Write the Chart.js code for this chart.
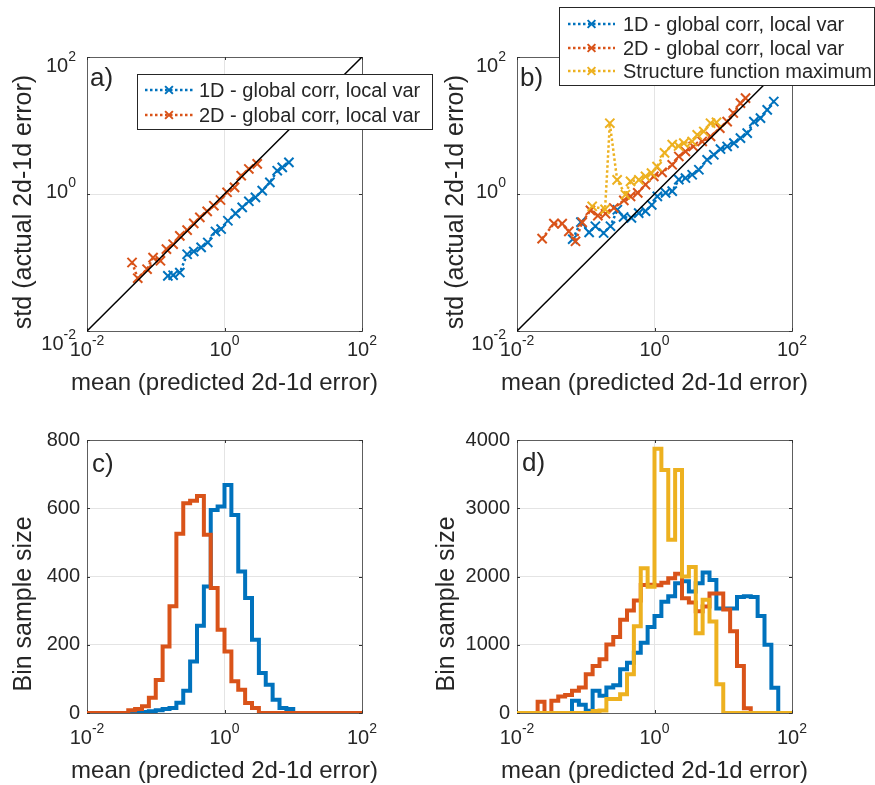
<!DOCTYPE html>
<html><head><meta charset="utf-8">
<script src="https://cdn.jsdelivr.net/npm/chart.js@4"></script>
<style>
html,body{margin:0;padding:0;background:#fff}
body{width:875px;height:785px;position:relative;overflow:hidden}
canvas{position:absolute;left:0;top:0}
</style></head><body>
<canvas id="ca" width="875" height="785"></canvas>
<canvas id="cb" width="875" height="785"></canvas>
<canvas id="cc" width="875" height="785"></canvas>
<canvas id="cd" width="875" height="785"></canvas>
<script>
// ---------------- DATA ----------------
const logTickVals = [0.01, 1, 100];
const logTickExp = ['-2', '0', '2'];
const cTicks = [0, 200, 400, 600, 800];
const dTicks = [0, 1000, 2000, 3000, 4000];

// panel a
const a1D_x = [0.150,0.179,0.224,0.286,0.357,0.457,0.571,0.740,0.893,1.12,1.45,1.81,2.26,2.82,3.54,4.57,5.85,6.92,8.65];
const a1D_y = [0.0638,0.0653,0.0714,0.132,0.145,0.166,0.196,0.284,0.308,0.407,0.521,0.638,0.782,0.893,1.12,1.48,2.19,2.45,2.90];
const a2D_x = [0.0452,0.0547,0.0748,0.0914,0.117,0.143,0.179,0.224,0.286,0.357,0.438,0.560,0.700,0.875,1.09,1.40,1.75,2.26,2.99];
const a2D_y = [0.100,0.0590,0.0798,0.118,0.106,0.157,0.185,0.245,0.297,0.372,0.456,0.557,0.675,0.817,1.06,1.25,1.85,2.32,2.75];

// panel b
const b1D_x = [0.0646,0.0851,0.112,0.138,0.182,0.229,0.288,0.355,0.462,0.589,0.741,0.912,1.10,1.45,1.81,2.26,2.82,3.53,4.42,5.83,7.29,9.12,11.4,14.3,17.8,22.3,27.9,34.8,43.6,54.3];
const b1D_y = [0.219,0.389,0.275,0.339,0.269,0.339,0.589,0.462,0.447,0.525,0.562,0.692,0.923,1.04,1.10,1.62,1.71,1.91,2.26,3.16,3.74,4.53,4.94,5.53,6.55,7.74,11.4,12.8,16.9,22.4];
const b2D_x = [0.0232,0.0344,0.0454,0.0568,0.0710,0.0887,0.117,0.150,0.194,0.256,0.358,0.448,0.571,0.740,0.977,1.29,1.81,2.26,2.82,3.66,4.94,6.53,8.91,11.4,14.0,17.8,21.1];
const b2D_y = [0.223,0.369,0.369,0.285,0.204,0.386,0.577,0.483,0.516,0.625,0.807,0.923,1.04,1.37,1.81,2.07,2.67,3.53,4.18,4.94,5.85,6.92,9.16,11.4,15.2,21.2,25.1];
const bSF_x = [0.124,0.191,0.224,0.286,0.378,0.448,0.592,0.740,0.904,1.09,1.40,1.81,2.24,2.67,3.53,4.18,5.21,6.53,7.98];
const bSF_y = [0.661,0.596,10.8,1.61,0.977,1.53,1.61,1.81,2.02,2.51,3.98,5.25,5.01,5.53,5.85,7.31,8.18,10.8,11.1];

// histogram bin edges (log10 of mean predicted error)
const binEdgeExp = [-2.0,-1.9,-1.8,-1.7,-1.6,-1.5,-1.4,-1.3,-1.2,-1.1,-1.0,-0.9,-0.8,-0.7,-0.6,-0.5,-0.4,-0.3,-0.2,-0.1,0.0,0.1,0.2,0.3,0.4,0.5,0.6,0.7,0.8,0.9,1.0,1.1,1.2,1.3,1.4,1.5,1.6,1.7,1.8,1.9,2.0];

// panel c counts
const histC_1D = [0,0,0,0,0,0,0,2,3,5, 8,12,15,30,65,151,256,371,595,605, 668,580,415,337,215,117,83,39,15,12, 0,0,0,0,0,0,0,0,0,0];
const histC_2D = [0,0,0,0,0,0,8,12,20,45, 97,195,313,525,615,622,636,522,366,244, 180,93,68,29,15,0,0,0,0,0, 0,0,0,0,0,0,0,0,0,0];
// panel d counts
const histD_1D = [0,0,0,0,0,0,0,0,180,121, 34,325,252,373,407,640,737,883,1030,1260, 1420,1630,1710,1900,1930,1780,1900,2060,1950,1530, 1530,1530,1700,1710,1700,1420,1000,370,0,0];
const histD_2D = [0,0,0,165,0,180,243,262,325,373, 567,689,786,1004,1115,1368,1503,1649,1877,1880, 1870,1910,1975,2040,1680,1620,1490,1560,1750,1750, 1515,1199,689,68,0,0,0,0,0,0];
const histD_SF = [0,0,0,0,0,0,0,0,0,0, 0,30,35,204,204,276,567,1271,2120,1850, 3870,3560,2540,3560,2000,2140,1170,1660,1340,420, 0,0,0,0,0,0,0,0,0,0];

const lab1D = '1D - global corr, local var';
const lab2D = '2D - global corr, local var';
const labSF = 'Structure function maximum';

// ---------------- STYLE ----------------
const BLUE = '#0072BD', ORANGE = '#D95319', YELLOW = '#EDB120';
const FONT = '"Liberation Sans", Arial, Helvetica, sans-serif';
const TXT = '#262626';
const GRID = '#e4e4e4';
const BOX = '#5e5e5e';
const yLogOff = [13, -2, 9];

function pts(xs, ys) { return xs.map((x, i) => ({ x: x, y: ys[i] })); }
function histPts(counts) {
  return binEdgeExp.map((e, i) => ({ x: Math.pow(10, e), y: counts[Math.min(i, counts.length - 1)] }));
}
function scatterDS(xs, ys, color, order) {
  return { data: pts(xs, ys), borderColor: color, backgroundColor: color, pointBorderColor: color,
    borderWidth: 2.5, borderDash: [2.5, 2.5], pointStyle: 'crossRot', pointRadius: 6.5, pointBorderWidth: 2,
    tension: 0, order: order, fill: false };
}
function histDS(counts, color, order) {
  return { data: histPts(counts), borderColor: color, borderWidth: 4, pointRadius: 0, stepped: 'before',
    tension: 0, order: order, fill: false, borderJoinStyle: 'miter' };
}
function diagDS() {
  return { data: [{ x: 0.01, y: 0.01 }, { x: 100, y: 100 }], borderColor: '#000', borderWidth: 1.5,
    pointRadius: 0, order: 0, fill: false };
}
function logAxis() {
  return { type: 'logarithmic', min: 0.01, max: 100,
    afterBuildTicks: s => { s.ticks = logTickVals.map(v => ({ value: v })); },
    ticks: { display: false }, grid: { color: GRID, drawTicks: false, lineWidth: 1 },
    border: { display: false }, title: { display: false } };
}
function linAxis(tks) {
  return { type: 'linear', min: tks[0], max: tks[tks.length - 1],
    afterBuildTicks: s => { s.ticks = tks.map(v => ({ value: v })); },
    ticks: { display: false }, grid: { color: GRID, drawTicks: false, lineWidth: 1 },
    border: { display: false }, title: { display: false } };
}

function powLabel(ctx, exp, x, y, align) {
  ctx.font = '20px ' + FONT;
  const w1 = ctx.measureText('10').width;
  ctx.font = '14px ' + FONT;
  const w2 = ctx.measureText(exp).width;
  const tot = w1 + w2;
  const left = align === 'center' ? x - tot / 2 : x - tot;
  ctx.textAlign = 'left'; ctx.textBaseline = 'middle'; ctx.fillStyle = TXT;
  ctx.font = '20px ' + FONT; ctx.fillText('10', left, y);
  ctx.font = '14px ' + FONT; ctx.fillText(exp, left + w1, y - 9);
}
function drawX(ctx, x, y, r, color) {
  const d = r * 0.7071;
  ctx.setLineDash([]); ctx.strokeStyle = color; ctx.lineWidth = 2;
  ctx.beginPath(); ctx.moveTo(x - d, y - d); ctx.lineTo(x + d, y + d);
  ctx.moveTo(x - d, y + d); ctx.lineTo(x + d, y - d); ctx.stroke();
}

const deco = {
  id: 'deco',
  beforeDatasetsDraw(chart, args, o) {
    const { ctx, chartArea: a, scales } = chart;
    ctx.save();
    ctx.strokeStyle = BOX; ctx.lineWidth = 1; ctx.setLineDash([]);
    ctx.strokeRect(a.left + 0.5, a.top + 0.5, a.right - a.left, a.bottom - a.top);
    ctx.strokeStyle = '#333';
    ctx.beginPath();
    scales.x.ticks.forEach(t => {
      const px = Math.round(scales.x.getPixelForValue(t.value)) + 0.5;
      ctx.moveTo(px, a.bottom); ctx.lineTo(px, a.bottom - 3);
      ctx.moveTo(px, a.top); ctx.lineTo(px, a.top + 3);
    });
    scales.y.ticks.forEach(t => {
      const py = Math.round(scales.y.getPixelForValue(t.value)) + 0.5;
      ctx.moveTo(a.left, py); ctx.lineTo(a.left + 3, py);
      ctx.moveTo(a.right, py); ctx.lineTo(a.right - 3, py);
    });
    ctx.stroke();
    ctx.restore();
  },
  afterDraw(chart, args, o) {
    const { ctx, chartArea: a, scales } = chart;
    ctx.save();
    ctx.fillStyle = TXT;
    logTickVals.forEach((v, i) => {
      powLabel(ctx, logTickExp[i], scales.x.getPixelForValue(v), o.xTickY, 'center');
    });
    if (o.yLog) {
      logTickVals.forEach((v, i) => {
        powLabel(ctx, logTickExp[i], a.left - 11, scales.y.getPixelForValue(v) + yLogOff[i], 'right');
      });
    } else {
      ctx.font = '20px ' + FONT; ctx.textAlign = 'right'; ctx.textBaseline = 'middle'; ctx.fillStyle = TXT;
      o.yTicks.forEach(v => ctx.fillText(String(v), a.left - 7, scales.y.getPixelForValue(v)));
    }
    ctx.fillStyle = TXT; ctx.font = '24px ' + FONT; ctx.textAlign = 'center'; ctx.textBaseline = 'middle';
    ctx.fillText(o.xTitle, (a.left + a.right) / 2, o.xTitleY);
    ctx.save();
    ctx.font = '25px ' + FONT;
    ctx.translate(o.yTitleX, o.yTitleY); ctx.rotate(-Math.PI / 2);
    ctx.fillText(o.yTitle, 0, 0);
    ctx.restore();
    ctx.font = '26px ' + FONT; ctx.textAlign = 'left'; ctx.textBaseline = 'middle';
    ctx.fillText(o.label, o.labX, o.labY);
    if (o.legend) {
      const L = o.legend;
      ctx.fillStyle = '#fff'; ctx.fillRect(L.x, L.y, L.w, L.h);
      ctx.strokeStyle = '#262626'; ctx.lineWidth = 1; ctx.setLineDash([]);
      ctx.strokeRect(L.x + 0.5, L.y + 0.5, L.w, L.h);
      L.rows.forEach(r => {
        ctx.strokeStyle = r.color; ctx.lineWidth = 2.5; ctx.setLineDash([2.5, 2.5]);
        ctx.beginPath(); ctx.moveTo(L.sx0, r.y); ctx.lineTo(L.sx1, r.y); ctx.stroke();
        drawX(ctx, (L.sx0 + L.sx1) / 2, r.y, 5.5, r.color);
        ctx.fillStyle = TXT; ctx.font = '20px ' + FONT; ctx.textAlign = 'left'; ctx.textBaseline = 'middle';
        ctx.fillText(r.text, L.tx, r.y + 1);
      });
    }
    ctx.restore();
  }
};

function make(id, pad, datasets, yScale, decoOpts) {
  return new Chart(document.getElementById(id), {
    type: 'line',
    data: { datasets: datasets },
    options: {
      responsive: false, animation: false, events: [],
      layout: { padding: pad, autoPadding: false },
      plugins: { legend: { display: false }, tooltip: { enabled: false }, deco: decoOpts },
      scales: { x: logAxis(), y: yScale }
    },
    plugins: [deco]
  });
}

const yStd = 'std (actual 2d-1d error)';
const xMean = 'mean (predicted 2d-1d error)';
const yBin = 'Bin sample size';

make('ca', { left: 87, top: 57, right: 513, bottom: 454 },
  [diagDS(), scatterDS(a2D_x, a2D_y, ORANGE, 2), scatterDS(a1D_x, a1D_y, BLUE, 3)],
  logAxis(),
  { yLog: true, xTickY: 350, xTitleY: 383, yTitleX: 24, yTitleY: 202, xTitle: xMean, yTitle: yStd, label: 'a)', labX: 90, labY: 79,
    legend: { x: 137, y: 74, w: 295, h: 55, sx0: 145, sx1: 193, tx: 199,
      rows: [{ text: lab1D, color: BLUE, y: 90 }, { text: lab2D, color: ORANGE, y: 115 }] } });

make('cb', { left: 517, top: 57, right: 83, bottom: 454 },
  [diagDS(), scatterDS(bSF_x, bSF_y, YELLOW, 1), scatterDS(b2D_x, b2D_y, ORANGE, 2), scatterDS(b1D_x, b1D_y, BLUE, 3)],
  logAxis(),
  { yLog: true, xTickY: 350, xTitleY: 383, yTitleX: 456, yTitleY: 202, xTitle: xMean, yTitle: yStd, label: 'b)', labX: 520, labY: 79,
    legend: { x: 559, y: 7, w: 315, h: 78, sx0: 568, sx1: 615, tx: 623,
      rows: [{ text: lab1D, color: BLUE, y: 24 }, { text: lab2D, color: ORANGE, y: 48 }, { text: labSF, color: YELLOW, y: 71 }] } });

make('cc', { left: 87, top: 440, right: 513, bottom: 72 },
  [histDS(histC_2D, ORANGE, 2), histDS(histC_1D, BLUE, 3)],
  linAxis(cTicks),
  { yLog: false, yTicks: cTicks, xTickY: 738, xTitleY: 771, yTitleX: 24, yTitleY: 604, xTitle: xMean, yTitle: yBin, label: 'c)', labX: 92, labY: 465 });

make('cd', { left: 517, top: 440, right: 83, bottom: 72 },
  [histDS(histD_SF, YELLOW, 1), histDS(histD_2D, ORANGE, 2), histDS(histD_1D, BLUE, 3)],
  linAxis(dTicks),
  { yLog: false, yTicks: dTicks, xTickY: 738, xTitleY: 771, yTitleX: 447, yTitleY: 604, xTitle: xMean, yTitle: yBin, label: 'd)', labX: 522, labY: 464 });
</script>
</body></html>
